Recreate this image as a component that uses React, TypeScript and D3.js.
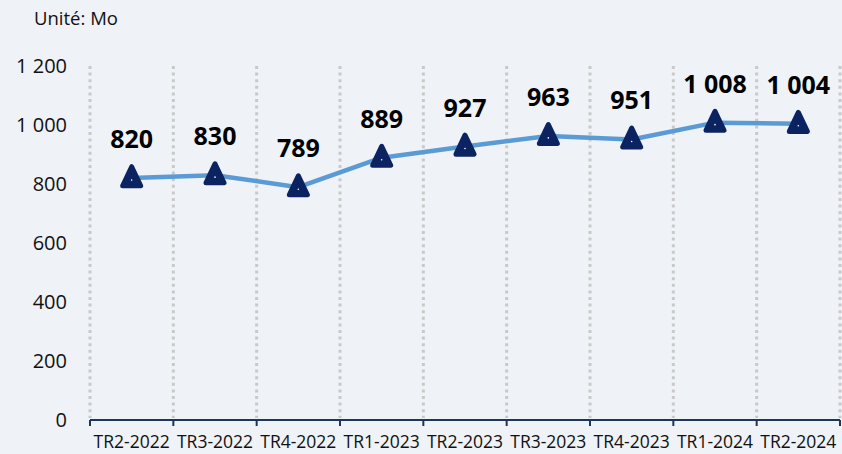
import React from "react";
import * as d3 from "d3";

const categories = ["TR2-2022", "TR3-2022", "TR4-2022", "TR1-2023", "TR2-2023", "TR3-2023", "TR4-2023", "TR1-2024", "TR2-2024"];
const values = [820, 830, 789, 889, 927, 963, 951, 1008, 1004];
const yTicks = [0, 200, 400, 600, 800, 1000, 1200];
const unitLabel = "Unité: Mo";

const W = 842, H = 454;
const fmt = (v: number) => d3.format(",")(v).replace(/,/g, " ");

export default function App() {
  const x = d3.scaleBand<string>().domain(categories).range([90, 840]).padding(0);
  const y = d3.scaleLinear().domain([0, 1200]).range([420, 66]);
  const cx = (c: string) => (x(c) ?? 0) + x.bandwidth() / 2;
  const line = d3.line<number>().x((_, i) => cx(categories[i])).y((d) => y(d));
  const bounds = [...categories.map((c) => x(c) ?? 0), 840];
  const font = "'Open Sans', 'Liberation Sans', sans-serif";
  const tri = (px: number, py: number) => {
    const w = 18, h = 19;
    return `M${px},${py - h * 0.6}L${px + w / 2},${py + h * 0.4}L${px - w / 2},${py + h * 0.4}Z`;
  };
  return (
    <svg width={W} height={H} style={{ position: "absolute", left: 0, top: 0, display: "block" }}>
      <rect x={0} y={0} width={W} height={H} fill="#eff2f7" />
      <text x={34} y={25} fontFamily={font} fontSize={18.5} fill="#111">{unitLabel}</text>
      {bounds.map((b, i) => (
        <line key={i} x1={b} x2={b} y1={66} y2={418} stroke="#c9c9c9" strokeWidth={3} strokeDasharray="3,3.6" />
      ))}
      {yTicks.map((t) => (
        <text key={t} x={67} y={y(t) + 7} textAnchor="end" fontFamily={font} fontSize={20} fill="#111">{fmt(t)}</text>
      ))}
      <line x1={90} x2={840} y1={420} y2={420} stroke="#1d3557" strokeWidth={2} />
      {bounds.map((b, i) => (
        <line key={"t" + i} x1={b} x2={b} y1={420} y2={426} stroke="#1d3557" strokeWidth={2} />
      ))}
      {categories.map((c) => (
        <text key={c} x={cx(c)} y={448} textAnchor="middle" fontFamily={font} fontSize={17.5} fill="#111">{c}</text>
      ))}
      <path d={line(values) ?? ""} fill="none" stroke="#5b9bd5" strokeWidth={4.5} strokeLinejoin="round" />
      {values.map((v, i) => (
        <g key={i}>
          <path d={tri(cx(categories[i]), y(v))} fill="#0b2461" stroke="#0b2461" strokeWidth={5} strokeLinejoin="round" />
          <circle cx={cx(categories[i])} cy={y(v) + 2} r={0.8} fill="#fff" />
          <text x={cx(categories[i])} y={y(v) - 30} textAnchor="middle" fontFamily={font} fontSize={25} fontWeight="bold" fill="#000">{fmt(v)}</text>
        </g>
      ))}
    </svg>
  );
}
